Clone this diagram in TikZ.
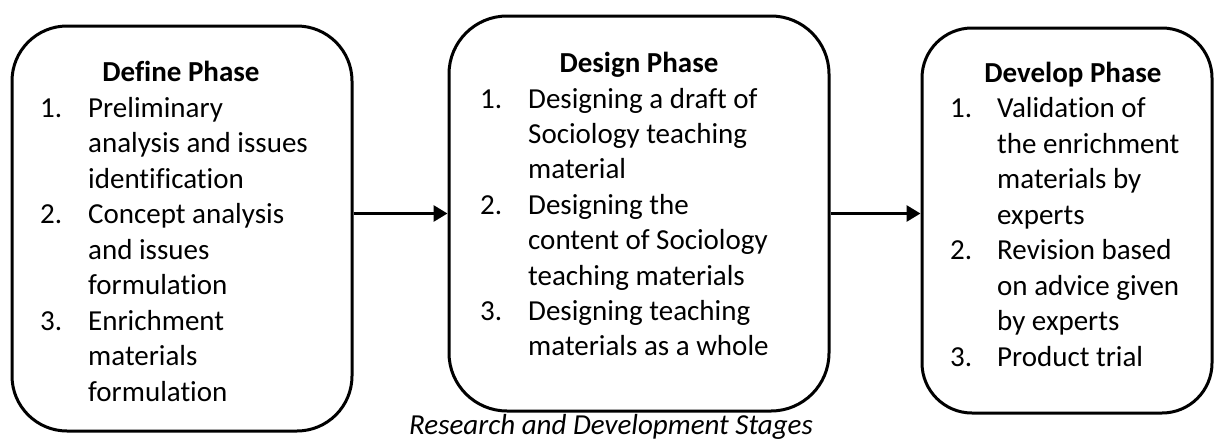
\documentclass[tikz,border=0pt]{standalone}
\usepackage{fontspec}
\setmainfont[Ligatures=NoCommon]{Carlito}
\usetikzlibrary{arrows.meta}
\newcommand{\bodyfont}{\fontsize{29}{35}\selectfont}
\tikzset{
  phasebox/.style={draw=black, line width=3pt, rectangle, fill=none},
  ln/.style={anchor=base west, inner sep=0pt, font=\bodyfont},
  ttl/.style={anchor=base, inner sep=0pt, font=\bodyfont\bfseries},
  arr/.style={line width=3pt, -{Triangle[length=14pt,width=16pt]}}
}
\begin{document}
\begin{tikzpicture}[x=1pt,y=-1pt]
\useasboundingbox (0,0) rectangle (1215,439);
% boxes
\node[phasebox, rounded corners=55pt, minimum width=340pt, minimum height=405pt] (b1) at (182,228.5) {};
\node[phasebox, rounded corners=58pt, minimum width=380pt, minimum height=395pt] (b2) at (639,213.5) {};
\node[phasebox, rounded corners=50pt, minimum width=290pt, minimum height=385pt] (b3) at (1067,220.5) {};
% box 1
\node[ttl] (t1) at (181,81) {Define Phase};
\node[ln] (n11) at (40,117) {1.};
\node[ln] (a11) at (88,117) {Preliminary};
\node[ln] (a12) at (88,152.5) {analysis and issues};
\node[ln] (a13) at (88,188) {identification};
\node[ln] (n12) at (40,223.5) {2.};
\node[ln] (a14) at (88,223.5) {Concept analysis};
\node[ln] (a15) at (88,259) {and issues};
\node[ln] (a16) at (88,294.5) {formulation};
\node[ln] (n13) at (40,330) {3.};
\node[ln] (a17) at (88,330) {Enrichment};
\node[ln] (a18) at (88,365.5) {materials};
\node[ln] (a19) at (88,401) {formulation};
% box 2
\node[ttl] (t2) at (639,72) {Design Phase};
\node[ln] (n21) at (480,108) {1.};
\node[ln] (a21) at (528,108) {Designing a draft of};
\node[ln] (a22) at (528,143) {Sociology teaching};
\node[ln] (a23) at (528,178) {material};
\node[ln] (n22) at (480,214) {2.};
\node[ln] (a24) at (528,214) {Designing the};
\node[ln] (a25) at (528,249) {content of Sociology};
\node[ln] (a26) at (528,285) {teaching materials};
\node[ln] (n23) at (480,320) {3.};
\node[ln] (a27) at (528,320) {Designing teaching};
\node[ln] (a28) at (528,355) {materials as a whole};
% box 3
\node[ttl] (t3) at (1073,82) {Develop Phase};
\node[ln] (n31) at (950,117) {1.};
\node[ln] (a31) at (997,117) {Validation of};
\node[ln] (a32) at (997,153) {the enrichment};
\node[ln] (a33) at (997,188) {materials by};
\node[ln] (a34) at (997,224) {experts};
\node[ln] (n32) at (950,259) {2.};
\node[ln] (a35) at (997,259) {Revision based};
\node[ln] (a36) at (997,295) {on advice given};
\node[ln] (a37) at (997,330) {by experts};
\node[ln] (n33) at (950,366) {3.};
\node[ln] (a38) at (997,366) {Product trial};
% connectors
\draw[arr] (b1.east |- b2.west) -- (b2.west);
\draw[arr] (b2.east |- b2.west) -- (b3.west |- b2.west);
% caption
\node[anchor=base, inner sep=0pt, font=\bodyfont\itshape] (cap) at (611,434) {Research and Development Stages};
\end{tikzpicture}
\end{document}
